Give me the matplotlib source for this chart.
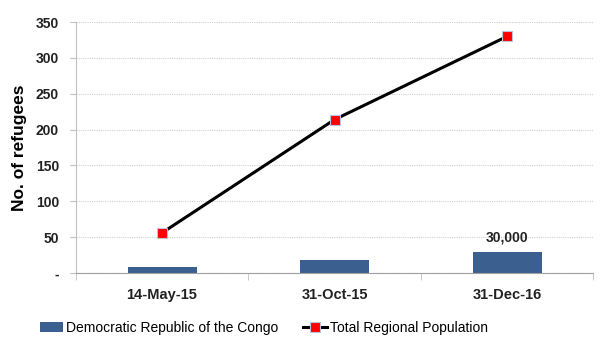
import numpy as np
import matplotlib
matplotlib.use("Agg")
import matplotlib.pyplot as plt
from matplotlib.ticker import FuncFormatter

plt.rcParams['font.family'] = ['Liberation Sans', 'DejaVu Sans']

dates = ["14-May-15", "31-Oct-15", "31-Dec-16"]
drc = [9, 18, 30]
total = [56, 214, 330]
yticks = [0, 50, 100, 150, 200, 250, 300, 350]

fig = plt.figure(figsize=(6.06, 3.4), dpi=100)
ax = fig.add_axes([0.125, 0.197, 0.854, 0.738])

x = np.arange(len(dates))
bars = ax.bar(x, drc, width=0.4, color="#3b5f8e", zorder=2,
              label="Democratic Republic of the Congo")
line, = ax.plot(x, total, color="black", lw=2.2, marker="s", markersize=7,
                markerfacecolor="#ff0000", markeredgecolor="#b8c4dc", markeredgewidth=0.8,
                zorder=3, label="Total Regional Population")

ax.text(x[-1], drc[-1] + 20, "30,000", ha="center", va="center",
        fontsize=10, fontweight="bold", color="#222222")

ax.set_xlim(-0.5, len(dates) - 0.5)
ax.set_ylim(0, 350)
ax.set_yticks(yticks)
ax.yaxis.set_major_formatter(FuncFormatter(lambda v, p: "-" if v == 0 else f"{int(v)}"))
ax.set_xticks(x)
ax.set_xticklabels(dates)
ax.set_xticks(np.arange(len(dates) + 1) - 0.5, minor=True)
ax.tick_params(axis="x", which="major", length=0, pad=11)
ax.tick_params(axis="x", which="minor", length=5, color="#c0c0c0", direction="out")
ax.tick_params(axis="y", length=4, color="#c0c0c0", pad=8)
for lab in ax.get_yticklabels():
    lab.set_fontweight("bold")
    lab.set_fontsize(10)
    lab.set_color("#222222")
for lab in ax.get_xticklabels():
    lab.set_fontweight("bold")
    lab.set_fontsize(10.5)
    lab.set_color("#222222")

ax.grid(axis="y", color="#d0d0d0", lw=0.8, ls=(0, (1, 1)), zorder=0)
for s in ["top", "right"]:
    ax.spines[s].set_visible(False)
ax.spines["left"].set_color("#c0c0c0")
ax.spines["bottom"].set_color("#a0a0a0")

ax.set_ylabel("No. of refugees", fontsize=12.5, fontweight="bold", labelpad=6)

fig.legend([bars, line], ["Democratic Republic of the Congo", "Total Regional Population"],
           loc="center", bbox_to_anchor=(0.435, 0.035), ncol=2, frameon=False,
           fontsize=10, handlelength=1.7, columnspacing=1.8, handletextpad=0.2)

fig.savefig("out.png", dpi=100)
